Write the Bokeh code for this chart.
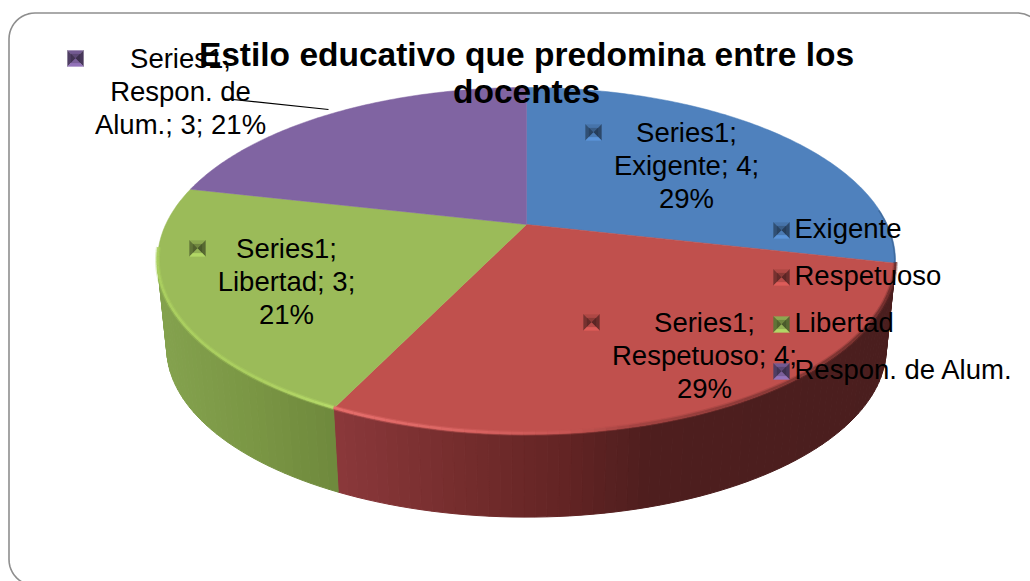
import math
from bokeh.plotting import figure
from bokeh.models import Range1d
from bokeh.core.properties import value as V
from bokeh.embed import file_html
from bokeh.resources import INLINE

title_lines = ["Estilo educativo que predomina entre los", "docentes"]
series_name = "Series1"
categories = ["Exigente", "Respetuoso", "Libertad", "Respon. de Alum."]
values = [4, 4, 3, 3]
colors = ["#4F81BD", "#C0504D", "#9BBB59", "#8064A2"]

FONT = "Liberation Sans"
W, H = 1030, 581
p = figure(width=W, height=H, output_backend="svg", toolbar_location=None,
           x_range=Range1d(0, W), y_range=Range1d(H, 0),
           min_border=0, outline_line_color=None,
           background_fill_color="white", border_fill_color="white")
p.axis.visible = False
p.grid.visible = False

# --- perspective projection of the pie disc
CX, CY, A, B, K = 526.0, 224.0, 360.8, 165.8, 0.21
S_LOW, CY_LOW = 0.975, 312.0


def top_pt(deg):
    t = math.radians(deg)
    u, v = math.sin(t), math.cos(t)
    d = 1 + K * v
    return CX + A * u / d, CY - B * v / d


def low_pt(deg):
    t = math.radians(deg)
    u, v = math.sin(t), math.cos(t)
    d = 1 + K * v
    return CX + S_LOW * A * u / d, CY_LOW - S_LOW * B * v / d


def lerp_stops(x, stops):
    if x <= stops[0][0]:
        return stops[0][1]
    for (x0, c0), (x1, c1) in zip(stops, stops[1:]):
        if x <= x1:
            f = (x - x0) / (x1 - x0)
            return tuple(c0[i] + (c1[i] - c0[i]) * f for i in range(3))
    return stops[-1][1]


def hexc(c):
    return "#%02x%02x%02x" % tuple(max(0, min(255, int(round(k)))) for k in c)


total = sum(values)
edges = [0.0]
for val in values:
    edges.append(edges[-1] + 360.0 * val / total)

RED_SIDE = [(338, (138, 56, 58)), (450, (118, 46, 46)), (560, (100, 36, 36)),
            (650, (78, 30, 30)), (890, (74, 30, 30))]
GREEN_SIDE = [(157, (132, 162, 78)), (250, (122, 150, 68)), (338, (110, 136, 60))]
RED_RIM = [(338, (232, 112, 110)), (450, (222, 104, 102)), (560, (200, 86, 84)),
           (640, (160, 66, 64)), (890, (110, 46, 44))]
GREEN_RIM = [(157, (172, 208, 96)), (250, (172, 208, 96)), (338, (184, 220, 106))]

# --- side wall, cut into thin shaded strips
side_x, side_y, side_c = [], [], []
STEP = 1.5
for lo, hi, stops in [(edges[1], edges[2], RED_SIDE), (edges[2], 262.0, GREEN_SIDE)]:
    n = int((hi - lo) / STEP) + 1
    for i in range(n):
        a0 = lo + (hi - lo) * i / n
        a1 = lo + (hi - lo) * (i + 1) / n
        t0, t1, l0, l1 = top_pt(a0), top_pt(a1), low_pt(a0), low_pt(a1)
        side_x.append([t0[0], t1[0], l1[0], l0[0]])
        side_y.append([t0[1], t1[1], l1[1], l0[1]])
        side_c.append(hexc(lerp_stops((t0[0] + t1[0]) / 2, stops)))
p.patches(side_x, side_y, fill_color=side_c, line_color=side_c, line_width=1)

# --- top face
for i, c in enumerate(colors):
    n = 120
    xs, ys = [CX], [CY]
    for j in range(n + 1):
        x, y = top_pt(edges[i] + (edges[i + 1] - edges[i]) * j / n)
        xs.append(x)
        ys.append(y)
    p.patch(xs, ys, fill_color=c, line_color=c, line_width=0.5)

# --- bevelled rim along the front edge
for width, alpha in [(5, 0.35), (2.5, 0.9)]:
    rx, ry, rc = [], [], []
    for lo, hi, stops in [(edges[1], edges[2], RED_RIM), (edges[2], 262.0, GREEN_RIM)]:
        n = int((hi - lo) / 1.5) + 1
        for i in range(n):
            a0 = lo + (hi - lo) * i / n
            a1 = lo + (hi - lo) * (i + 1) / n
            t0, t1 = top_pt(a0), top_pt(a1)
            rx.append([t0[0], t1[0]])
            ry.append([t0[1] - 1.2, t1[1] - 1.2])
            rc.append(hexc(lerp_stops((t0[0] + t1[0]) / 2, stops)))
    p.multi_line(rx, ry, line_color=rc, line_width=width, line_alpha=alpha)

# --- dark fringe on the right of the blue slice
bx, by = [], []
for j in range(25):
    x, y = top_pt(85 + (edges[1] - 85) * j / 24)
    bx.append(x - 0.8)
    by.append(y)
p.line(bx, by, line_color="#2f5580", line_width=1.5, line_alpha=0.5)

# --- outer frame
r = 26.0
fx, fy = [], []
for j in range(13):
    t = math.radians(90 - 90 * j / 12)
    fx.append(8.5 + r * (1 - math.cos(t)))
    fy.append(559 + r * math.sin(t))
for j in range(13):
    t = math.radians(90 * j / 12)
    fx.append(8.5 + r * (1 - math.cos(t)))
    fy.append(12.5 + r * (1 - math.sin(t)))
fx += [1018, 1024, 1030]
fy += [12.5, 13.5, 16]
p.line(fx, fy, line_color="#8e8e8e", line_width=1.6)

# --- leader line
p.line([223, 328], [98, 109], line_color="black", line_width=1.2)


# --- bevelled key squares
def shade(c, f):
    rgb = [int(c[i:i + 2], 16) for i in (1, 3, 5)]
    return hexc([k * f for k in rgb])


def key(cx, cy, c):
    h = 8
    for size, factors in [(h, (0.90, 0.62, 0.56, 1.15)), (h * 0.55, (0.72, 0.52, 0.48, 0.95))]:
        s = size
        tris = [
            ([cx - s, cx + s, cx], [cy - s, cy - s, cy], factors[0]),
            ([cx - s, cx, cx - s], [cy - s, cy, cy + s], factors[1]),
            ([cx + s, cx, cx + s], [cy - s, cy, cy + s], factors[2]),
            ([cx - s, cx + s, cx], [cy + s, cy + s, cy], factors[3]),
        ]
        for xs, ys, f in tris:
            col = shade(c, f)
            p.patch(xs, ys, fill_color=col, line_color=col, line_width=0.3)


# renderer places alphabetic text lower than its y: correct for it
LABEL_SHIFT = 10
TITLE_SHIFT = 12

# --- data labels
label_lines = [
    [f"{series_name};", f"{categories[0]}; {values[0]};", f"{round(100 * values[0] / total)}%"],
    [f"{series_name};", f"{categories[1]}; {values[1]};", f"{round(100 * values[1] / total)}%"],
    [f"{series_name};", f"{categories[2]}; {values[2]};", f"{round(100 * values[2] / total)}%"],
    [f"{series_name};", "Respon. de", f"Alum.; {values[3]}; {round(100 * values[3] / total)}%"],
]
label_cx = [686, 704, 286, 180]
label_base = [[142, 175, 208], [332, 365, 398], [258, 291, 324], [68, 101, 134]]
label_key = [(593, 132), (591, 322), (197, 248), (75, 58)]

for lines, cx, bases, kpos, c in zip(label_lines, label_cx, label_base, label_key, colors):
    key(kpos[0], kpos[1], c)
    p.text(x=[cx] * 3, y=[b - LABEL_SHIFT for b in bases], text=lines, text_font=V(FONT),
           text_font_size="27.5px", text_align="center", text_baseline="alphabetic", text_color="black")

# --- legend
legend_y = [230, 277, 324, 371]
legend_base = [238, 285, 332, 379]
for c, ky in zip(colors, legend_y):
    key(781, ky, c)
p.text(x=[794] * 4, y=[b - LABEL_SHIFT for b in legend_base], text=categories, text_font=V(FONT),
       text_font_size="27.5px", text_align="left", text_baseline="alphabetic", text_color="black")

# --- title
p.text(x=[526, 526], y=[66 - TITLE_SHIFT, 103 - TITLE_SHIFT], text=title_lines, text_font=V(FONT),
       text_font_size="33.5px", text_font_style="bold", text_align="center",
       text_baseline="alphabetic", text_color="black")

open("out.html", "w").write(file_html(p, INLINE))
